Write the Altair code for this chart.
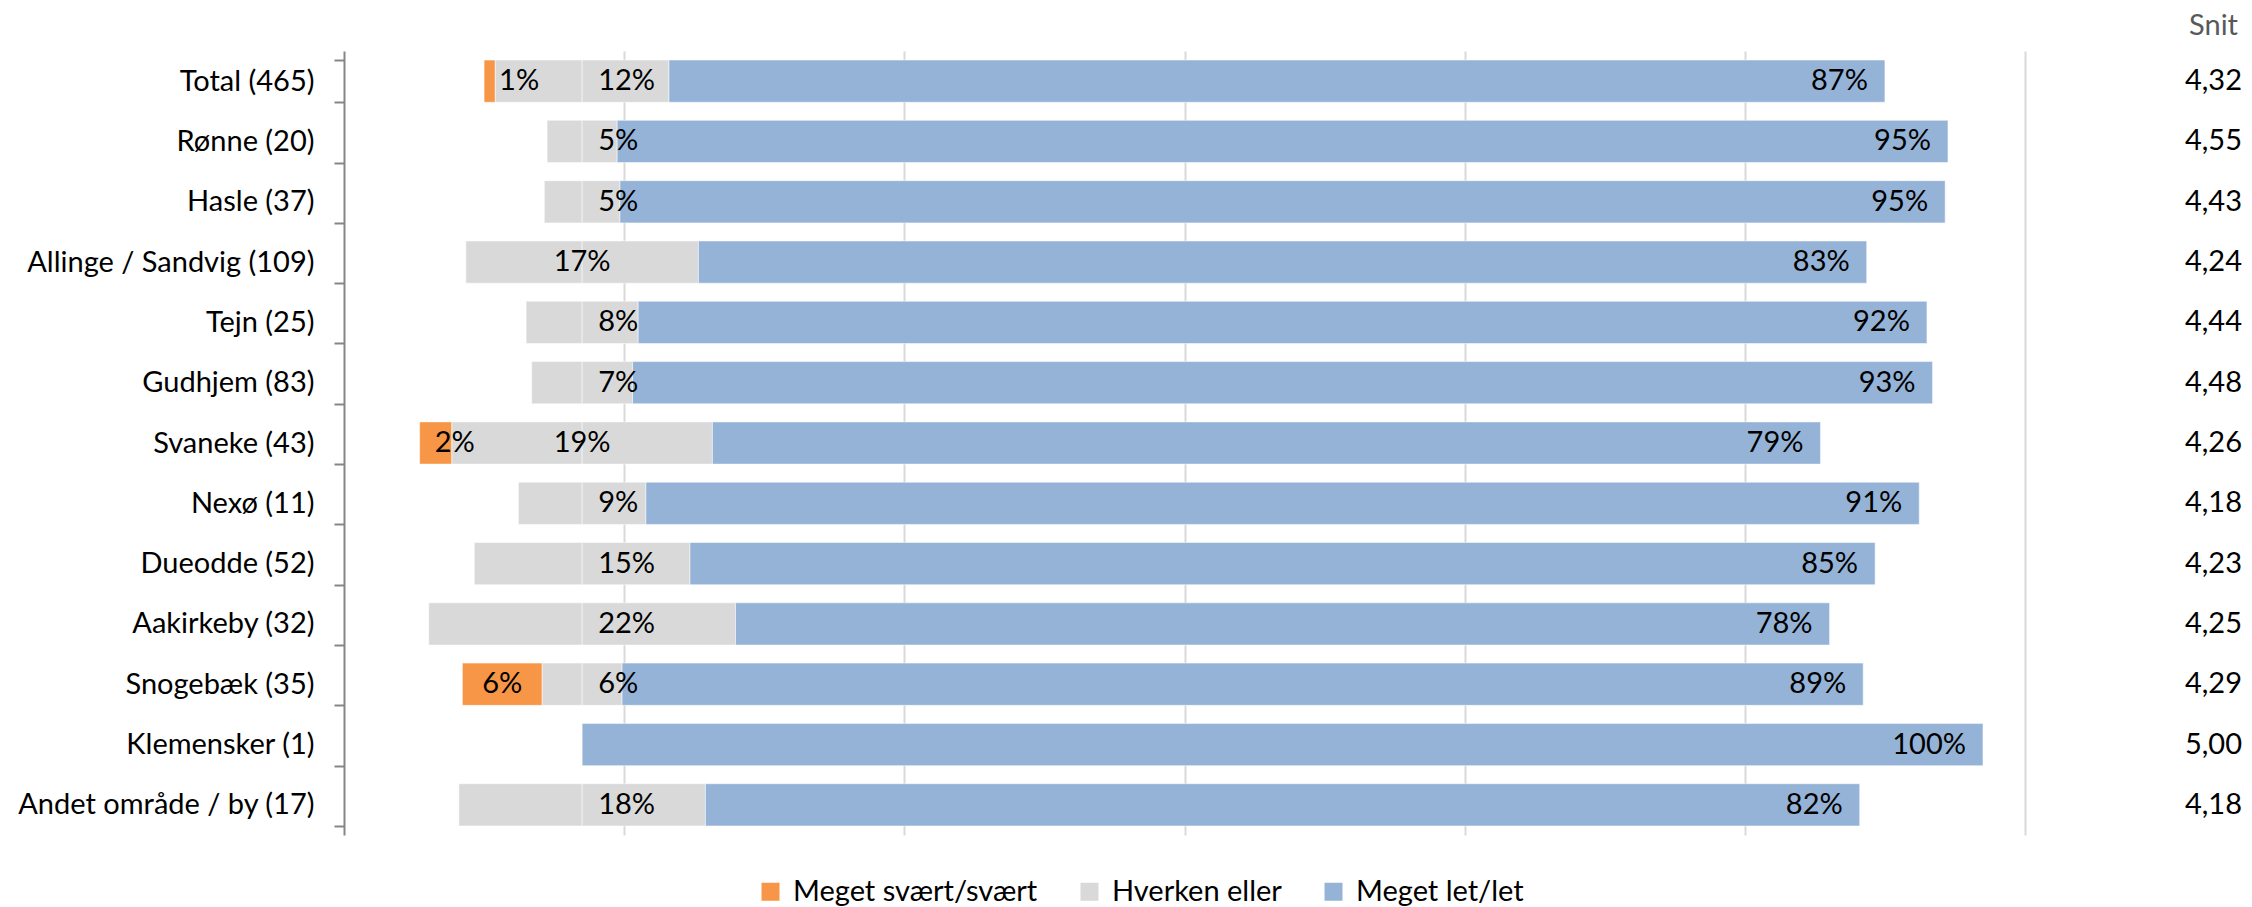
import altair as alt
import pandas as pd

# ---------------- data ----------------
categories = [
    "Total (465)", "Rønne (20)", "Hasle (37)", "Allinge / Sandvig (109)",
    "Tejn (25)", "Gudhjem (83)", "Svaneke (43)", "Nexø (11)", "Dueodde (52)",
    "Aakirkeby (32)", "Snogebæk (35)", "Klemensker (1)", "Andet område / by (17)",
]
hard = [0.8, 0, 0, 0, 0, 0, 2.3, 0, 0, 0, 5.7, 0, 0]            # Meget svært/svært
neutral = [12.4, 5.0, 5.4, 16.6, 8.0, 7.2, 18.6, 9.1, 15.4, 21.9, 5.7, 0, 17.6]  # Hverken eller
easy = [86.8, 95.0, 94.6, 83.4, 92.0, 92.8, 79.1, 90.9, 84.6, 78.1, 88.6, 100, 82.4]  # Meget let/let
snit = [4.32, 4.55, 4.43, 4.24, 4.44, 4.48, 4.26, 4.18, 4.23, 4.25, 4.29, 5.00, 4.18]
series = ["Meget svært/svært", "Hverken eller", "Meget let/let"]
colors = ["#F79646", "#D9D9D9", "#95B3D7"]
centred_neutral_labels = {"Allinge / Sandvig (109)", "Svaneke (43)"}

CENTER = 17  # axis value at which the neutral answers are centred
FONT = "Lato"
FS = 29

# ---------------- build tables ----------------
seg_rows, lab_rows = [], []
for c, h, n, e in zip(categories, hard, neutral, easy):
    n_left = CENTER - n / 2
    n_right = CENTER + n / 2
    if h > 0:
        seg_rows.append(dict(cat=c, Svar=series[0], start=n_left - h, end=n_left))
        lab_rows.append(dict(cat=c, kind="hard", x=max(n_left - h / 2, n_left - h + 2.5),
                             label=f"{round(h)}%"))
    if n > 0:
        seg_rows.append(dict(cat=c, Svar=series[1], start=n_left, end=CENTER))
        seg_rows.append(dict(cat=c, Svar=series[1], start=CENTER, end=n_right))
        lab_rows.append(dict(cat=c, kind="neutral_c" if c in centred_neutral_labels else "neutral",
                             x=CENTER, label=f"{round(n)}%"))
    seg_rows.append(dict(cat=c, Svar=series[2], start=n_right, end=n_right + e))
    lab_rows.append(dict(cat=c, kind="easy", x=n_right + e, label=f"{round(e)}%"))

segs = pd.DataFrame(seg_rows)
labs = pd.DataFrame(lab_rows)
snit_df = pd.DataFrame({"cat": categories,
                        "snit": [f"{v:.2f}".replace(".", ",") for v in snit]})
head_df = pd.DataFrame({"h": ["Snit"]})

# ---------------- encodings ----------------
Y = alt.Y(
    "cat:N", sort=categories, title=None,
    scale=alt.Scale(paddingInner=0.3, paddingOuter=0.15),
    axis=alt.Axis(
        title=None, grid=False, domainColor="#868686", domainWidth=2,
        tickColor="#868686", tickWidth=2, tickSize=10, tickBand="extent",
        labelFont=FONT, labelFontSize=FS, labelColor="black",
        labelPadding=20, labelLimit=600,
    ),
)
XS = alt.Scale(domain=[0, 120], nice=False, zero=False)
XA = alt.Axis(title=None, labels=False, ticks=False, domain=False, grid=True,
              values=[20, 40, 60, 80, 100, 120], gridColor="#D9D9D9", gridWidth=2)

bars = alt.Chart(segs).mark_bar(stroke="white", strokeWidth=1, strokeOpacity=0.5).encode(
    y=Y,
    x=alt.X("start:Q", scale=XS, axis=XA),
    x2="end:Q",
    color=alt.Color(
        "Svar:N",
        scale=alt.Scale(domain=series, range=colors),
        legend=alt.Legend(
            title=None, orient="none", legendX=412, legendY=826,
            direction="horizontal", symbolType="square", symbolSize=324,
            symbolStrokeWidth=0, labelFont=FONT, labelFontSize=FS,
            labelColor="black", labelOffset=8, columnPadding=37, padding=0,
            labelLimit=600,
        ),
    ),
)

def text_layer(kind, align, dx):
    return alt.Chart(labs).transform_filter(
        alt.datum.kind == kind
    ).mark_text(align=align, baseline="middle", dx=dx, font=FONT,
                fontSize=FS, color="black").encode(
        y=Y, x=alt.X("x:Q", scale=XS, axis=XA), text="label:N"
    )

easy_txt = text_layer("easy", "right", -17)
neu_txt = text_layer("neutral", "left", 16)
neu_c_txt = text_layer("neutral_c", "center", 0)
hard_txt = text_layer("hard", "center", 0)

snit_txt = alt.Chart(snit_df).mark_text(
    align="right", baseline="middle", font=FONT, fontSize=FS, color="black"
).encode(y=Y, x=alt.value(1898), text="snit:N")

head_txt = alt.Chart(head_df).mark_text(
    align="right", baseline="alphabetic", font=FONT, fontSize=FS, color="#595959"
).encode(x=alt.value(1894), y=alt.value(-16), text="h:N")

chart = alt.layer(
    bars, neu_txt, neu_c_txt, hard_txt, easy_txt, snit_txt, head_txt
).properties(
    width=1681, height=784,
    padding={"left": 336, "top": 43, "right": 219, "bottom": 80},
    autosize=alt.AutoSizeParams(type="none"),
    background="white",
).configure_view(strokeWidth=0)

chart.save("out.html", embed_options={"renderer": "svg", "actions": False})
